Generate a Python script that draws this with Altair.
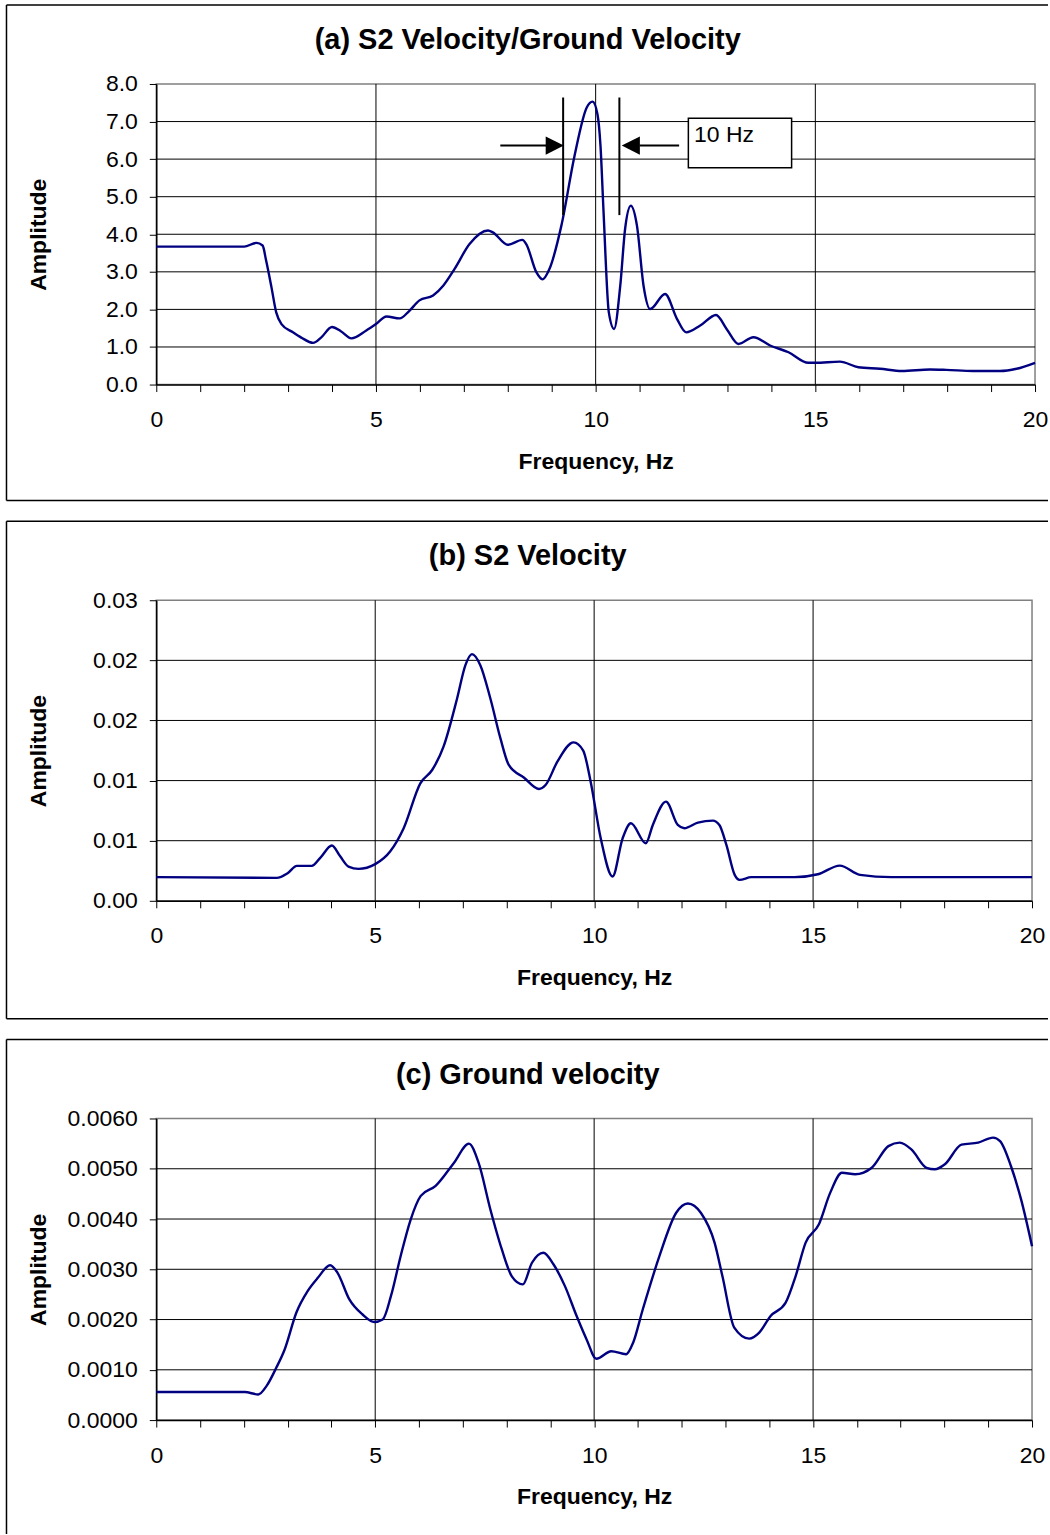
import json
import altair as alt
import pandas as pd

FONT = "Liberation Sans"
LINE_COLOR = "#000080"

# ---- (a) S2 velocity / ground velocity spectral ratio ----
freq_a = [0.0, 2.0, 2.28, 2.42, 2.5, 2.62, 2.73, 2.85, 3.11, 3.3, 3.57, 3.75, 4.0, 4.2,
          4.44, 4.78, 5.0, 5.24, 5.54, 5.75, 5.99, 6.3, 6.53, 6.79, 7.13, 7.55, 7.66,
          8.0, 8.33, 8.42, 8.65, 8.79, 8.95, 9.22, 9.52, 9.8, 9.93, 10.04, 10.11, 10.18,
          10.3, 10.42, 10.56, 10.67, 10.8, 10.94, 11.09, 11.24, 11.58, 11.85, 12.06,
          12.38, 12.74, 12.98, 13.25, 13.59, 13.97, 14.39, 14.84, 15.0, 15.56, 15.98,
          16.47, 16.97, 17.61, 17.98, 18.59, 19.2, 19.58, 20.0]
amp_a = [3.67, 3.67, 3.77, 3.70, 3.30, 2.60, 1.92, 1.61, 1.39, 1.25, 1.11, 1.25, 1.53, 1.42,
         1.23, 1.44, 1.61, 1.81, 1.76, 1.95, 2.24, 2.37, 2.63, 3.08, 3.74, 4.10, 4.05,
         3.72, 3.85, 3.74, 2.99, 2.80, 3.08, 4.23, 6.09, 7.38, 7.53, 7.20, 6.36, 4.59,
         1.92, 1.48, 2.63, 4.14, 4.76, 4.23, 2.63, 2.01, 2.41, 1.75, 1.39,
         1.57, 1.85, 1.48, 1.08, 1.26, 1.04, 0.86, 0.58, 0.58, 0.61, 0.46,
         0.42, 0.36, 0.40, 0.39, 0.36, 0.36, 0.42, 0.58]
yticks_a = [0, 1, 2, 3, 4, 5, 6, 7, 8]
ylabels_a = ["0.0", "1.0", "2.0", "3.0", "4.0", "5.0", "6.0", "7.0", "8.0"]

# 10 Hz bracket annotation
bracket_f = [9.26, 10.54]
bracket_top = 7.64
bracket_bottom = 4.51
arrow_amp = 6.36
arrow_shafts = [(7.83, 8.9), (11.0, 11.9)]
arrow_heads = [9.07, 10.8]
note_box_f = (12.11, 14.46)
note_box_amp = (5.77, 7.09)
note_text = "10 Hz"
note_text_pos = (12.24, 6.46)

# ---- (b) S2 velocity ----
freq_b = [0.0, 2.75, 3.0, 3.21, 3.55, 3.75, 4.01, 4.2, 4.39, 4.62, 5.0, 5.34, 5.65, 6.03,
          6.3, 6.56, 6.87, 7.06, 7.21, 7.4, 7.63, 7.86, 8.05, 8.4, 8.74, 8.89, 9.16,
          9.53, 9.75, 9.92, 10.15, 10.42, 10.65, 10.84, 11.18, 11.34, 11.64, 11.91,
          12.06, 12.37, 12.71, 12.86, 13.02, 13.21, 13.32, 13.59, 14.58, 15.11, 15.61,
          16.07, 16.79, 20.0]
amp_b = [0.00197, 0.00191, 0.0023, 0.00291, 0.00291, 0.0036, 0.0046, 0.0037, 0.00285,
         0.00266, 0.00305, 0.0041, 0.00604, 0.00977, 0.01088, 0.01282, 0.01683, 0.0196,
         0.02052, 0.0196, 0.01683, 0.01351, 0.0113, 0.01024, 0.0093, 0.00963, 0.01157,
         0.01318, 0.0125, 0.00991, 0.0052, 0.00202, 0.0052, 0.00645, 0.00479, 0.00631,
         0.00825, 0.00631, 0.00604, 0.00651, 0.00667, 0.00631, 0.00465, 0.00216,
         0.00174, 0.00197, 0.00197, 0.00221, 0.00293, 0.00216, 0.00197, 0.00197]
yticks_b = [0, 0.005, 0.01, 0.015, 0.02, 0.025]
ylabels_b = ["0.00", "0.01", "0.01", "0.02", "0.02", "0.03"]

# ---- (c) Ground velocity ----
freq_c = [0.0, 2.02, 2.33, 2.52, 2.74, 2.93, 3.2, 3.46, 3.69, 3.97, 4.14, 4.41, 4.71,
          4.98, 5.17, 5.36, 5.58, 5.81, 6.04, 6.38, 6.8, 7.14, 7.36, 7.63, 7.89, 8.12,
          8.37, 8.58, 8.84, 9.07, 9.33, 9.6, 9.83, 10.05, 10.39, 10.73, 10.89, 11.11,
          11.49, 11.87, 12.14, 12.44, 12.75, 12.93, 13.2, 13.54, 13.77, 14.03, 14.37,
          14.6, 14.83, 15.13, 15.39, 15.66, 15.96, 16.34, 16.72, 16.98, 17.25, 17.59,
          17.78, 18.01, 18.39, 18.77, 19.11, 19.27, 19.52, 19.75, 20.0]
amp_c = [0.000557, 0.000557, 0.00051, 0.00068, 0.00104, 0.0014, 0.00214, 0.00257,
         0.00283, 0.00308, 0.00293, 0.0024, 0.0021, 0.00195, 0.0020, 0.00247, 0.00326,
         0.00399, 0.00446, 0.00466, 0.00512, 0.0055, 0.00512, 0.00419, 0.0034, 0.00286,
         0.0027, 0.00313, 0.00333, 0.0031, 0.00267, 0.00207, 0.0016, 0.00122, 0.00137,
         0.00131, 0.00154, 0.0022, 0.00326, 0.00412, 0.00431, 0.00412, 0.00353,
         0.00286, 0.00184, 0.00162, 0.00174, 0.00207, 0.00233, 0.00286, 0.00353,
         0.00389, 0.00452, 0.00492, 0.00489, 0.00502, 0.00545, 0.00552, 0.00538,
         0.00502, 0.00499, 0.00509, 0.00548, 0.00552, 0.00562, 0.00555, 0.00505,
         0.00439, 0.00346]
yticks_c = [0, 0.001, 0.002, 0.003, 0.004, 0.005, 0.006]
ylabels_c = ["0.0000", "0.0010", "0.0020", "0.0030", "0.0040", "0.0050", "0.0060"]

x_ticks = list(range(21))
x_grid = [5, 10, 15]


def x_enc(field):
    axis = alt.Axis(
        values=x_ticks,
        labelExpr="datum.value % 5 === 0 ? datum.label : ''",
        grid=False, tickSize=7, tickColor="black", tickWidth=1,
        domainColor="black", domainWidth=1.5,
        labelFontSize=23, labelColor="black", labelPadding=17,
        labelFlush=False, labelOverlap=False,
        title="Frequency, Hz", titleFontSize=23, titleFontWeight="bold",
        titleColor="black", titleY=77, titleBaseline="middle",
    )
    return alt.X(f"{field}:Q", scale=alt.Scale(domain=[0, 20], nice=False, zero=False),
                 axis=axis)


def y_enc(field, ymax, ticks, labels, height):
    step = ticks[1] - ticks[0]
    axis = alt.Axis(
        values=ticks,
        labelExpr=f"{json.dumps(labels)}[round(datum.value / {step})]",
        grid=False, tickSize=7, tickColor="black", tickWidth=1,
        domainColor="black", domainWidth=1.5,
        labelFontSize=23, labelColor="black", labelPadding=12,
        labelOverlap=False,
        title="Amplitude", titleFontSize=23, titleFontWeight="bold",
        titleColor="black", titleX=-118, titleY=height / 2, titleAngle=270,
        titleAlign="center", titleBaseline="middle",
    )
    return alt.Y(f"{field}:Q", scale=alt.Scale(domain=[0, ymax], nice=False, zero=True),
                 axis=axis)


def one():
    return alt.Data(values=[{}])


def panel(title, freq, amp, ymax, ticks, labels, width, height, below=118,
          closed=True, extra=()):
    X = lambda f: x_enc(f)
    Y = lambda f: y_enc(f, ymax, ticks, labels, height)

    # frame around the whole panel
    right = 1050 - 156.5 - 0.5
    frame = [
        alt.Chart(one()).mark_rule(color="black", strokeWidth=1.5).encode(
            x=alt.value(-150), x2=alt.value(right), y=alt.value(-79)),
    ]
    if closed:
        frame += [
            alt.Chart(one()).mark_rule(color="black", strokeWidth=1.5).encode(
                x=alt.value(-150), y=alt.value(-79), y2=alt.value(height + below)),
            alt.Chart(one()).mark_rule(color="black", strokeWidth=1.5).encode(
                x=alt.value(-150), x2=alt.value(right), y=alt.value(height + below)),
        ]
    else:
        frame += [
            alt.Chart(one()).mark_rule(color="black", strokeWidth=1.5).encode(
                x=alt.value(-150), y=alt.value(-79), y2=alt.value(height + 114)),
        ]

    hgrid = alt.Chart(pd.DataFrame({"g": ticks[1:-1]})).mark_rule(
        color="black", strokeWidth=1).encode(y=Y("g"))
    vgrid = alt.Chart(pd.DataFrame({"v": x_grid})).mark_rule(
        color="black", strokeWidth=1).encode(x=X("v"))

    curve = alt.Chart(pd.DataFrame({"f": freq, "a": amp})).mark_line(
        color=LINE_COLOR, strokeWidth=2.4, interpolate="monotone").encode(
        x=X("f"), y=Y("a"))

    heading = alt.Chart(one()).mark_text(
        text=title, fontSize=29, fontWeight="bold", align="center",
        baseline="middle", color="black").encode(
        x=alt.value(372), y=alt.value(-44))

    layers = frame + [hgrid, vgrid, curve] + [e(X, Y) for e in extra] + [heading]
    return alt.layer(*layers).properties(width=width, height=height)


def bracket(X, Y):
    df = pd.DataFrame({"f": bracket_f, "top": [bracket_top] * 2,
                       "bottom": [bracket_bottom] * 2})
    return alt.Chart(df).mark_rule(color="black", strokeWidth=2).encode(
        x=X("f"), y=Y("top"), y2="bottom:Q")


def shafts(X, Y):
    df = pd.DataFrame({"f0": [s[0] for s in arrow_shafts],
                       "f1": [s[1] for s in arrow_shafts],
                       "a": [arrow_amp] * 2})
    return alt.Chart(df).mark_rule(color="black", strokeWidth=2).encode(
        x=X("f0"), x2="f1:Q", y=Y("a"))


def head_right(X, Y):
    df = pd.DataFrame({"f": [arrow_heads[0]], "a": [arrow_amp]})
    return alt.Chart(df).mark_point(
        shape="M1,0L-1,-1L-1,1Z", filled=True, size=330, color="black",
        opacity=1, strokeWidth=0).encode(x=X("f"), y=Y("a"))


def head_left(X, Y):
    df = pd.DataFrame({"f": [arrow_heads[1]], "a": [arrow_amp]})
    return alt.Chart(df).mark_point(
        shape="M-1,0L1,-1L1,1Z", filled=True, size=330, color="black",
        opacity=1, strokeWidth=0).encode(x=X("f"), y=Y("a"))


def note_box(X, Y):
    df = pd.DataFrame({"f0": [note_box_f[0]], "f1": [note_box_f[1]],
                       "a0": [note_box_amp[0]], "a1": [note_box_amp[1]]})
    return alt.Chart(df).mark_rect(fill="white", stroke="black", strokeWidth=1.5).encode(
        x=X("f0"), x2="f1:Q", y=Y("a0"), y2="a1:Q")


def note_label(X, Y):
    df = pd.DataFrame({"f": [note_text_pos[0]], "a": [note_text_pos[1]],
                       "t": [note_text]})
    return alt.Chart(df).mark_text(
        fontSize=23, align="left", baseline="alphabetic", color="black").encode(
        x=X("f"), y=Y("a"), text="t:N")


chart_a = panel("(a) S2 Velocity/Ground Velocity", freq_a, amp_a, 8, yticks_a, ylabels_a,
                880, 301, below=116,
                extra=(bracket, shafts, head_right, head_left, note_box, note_label))
chart_b = panel("(b) S2 Velocity", freq_b, amp_b, 0.025, yticks_b, ylabels_b, 877, 301)
chart_c = panel("(c) Ground velocity", freq_c, amp_c, 0.006, yticks_c, ylabels_c,
                877, 302, closed=False)

chart = alt.vconcat(chart_a, chart_b, chart_c, spacing=17).properties(
    padding={"left": 4.5, "top": 2, "right": 0, "bottom": 0},
    background="white",
).configure(font=FONT).configure_view(stroke="#808080", strokeWidth=1.5)

chart.save("out.html", embed_options={"renderer": "svg", "actions": False})
